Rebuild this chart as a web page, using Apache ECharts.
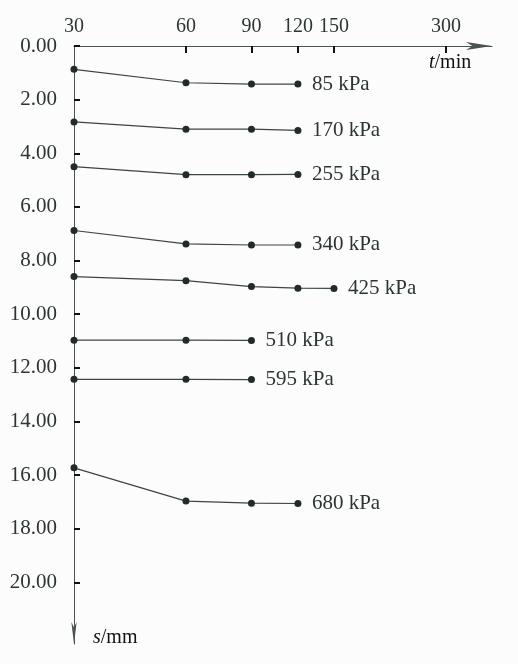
<!DOCTYPE html>
<html>
<head>
<meta charset="utf-8">
<script src="https://cdn.jsdelivr.net/npm/echarts@6/dist/echarts.min.js"></script>
<style>
  html, body { margin: 0; padding: 0; background: #fcfcfc; }
  #chart { width: 518px; height: 664px; }
</style>
</head>
<body>
<div id="chart"></div>
<script>
// Elapsed time of each reading (min), log scale
const times = [30, 60, 90, 120, 150];
const timeLabels = [30, 60, 90, 120, 150, 300];
const timeTicks = [60, 90, 120, 150, 300];
const settleTicks = [0, 2, 4, 6, 8, 10, 12, 14, 16, 18, 20];

// Load stages
const loads = ['85 kPa', '170 kPa', '255 kPa', '340 kPa', '425 kPa', '510 kPa', '595 kPa', '680 kPa'];

// Settlement s (mm) for each load stage, one value per reading time
const s85  = [0.87, 1.37, 1.42, 1.42];
const s170 = [2.83, 3.10, 3.10, 3.15];
const s255 = [4.50, 4.80, 4.80, 4.79];
const s340 = [6.88, 7.38, 7.42, 7.42];
const s425 = [8.60, 8.75, 8.97, 9.03, 9.04];
const s510 = [10.97, 10.97, 10.98];
const s595 = [12.43, 12.43, 12.44];
const s680 = [15.73, 16.97, 17.05, 17.06];

const settlements = [s85, s170, s255, s340, s425, s510, s595, s680];

const FONT = '"Liberation Serif", "Times New Roman", serif';
const INK = '#2c3434';

const series = loads.map((name, k) => ({
  name: name,
  type: 'line',
  data: settlements[k].map((s, i) => [times[i], s]),
  symbol: 'circle',
  symbolSize: 7,
  lineStyle: { color: '#3c4444', width: 1.2 },
  itemStyle: { color: '#222a2a' },
  endLabel: {
    show: true,
    formatter: '{a}',
    distance: 14,
    fontFamily: FONT,
    fontSize: 21,
    color: INK
  },
  emphasis: { disabled: true }
}));

const chart = echarts.init(document.getElementById('chart'));
chart.setOption({
  animation: false,
  backgroundColor: '#fcfcfc',
  grid: { left: 74, top: 46, right: 26, bottom: 20, containLabel: false, outerBoundsMode: 'none' },
  xAxis: {
    type: 'log',
    logBase: 10,
    position: 'top',
    min: 30,
    max: 399,
    axisLine: {
      show: true,
      lineStyle: { color: '#4a5252', width: 1 },
      symbol: ['none', 'arrow'],
      symbolSize: [6, 26]
    },
    axisTick: {
      show: true,
      inside: true,
      length: 7,
      customValues: timeTicks,
      lineStyle: { color: '#111', width: 2 }
    },
    axisLabel: {
      show: true,
      customValues: timeLabels,
      margin: 9,
      fontFamily: FONT,
      fontSize: 20,
      color: INK
    },
    splitLine: { show: false },
    minorTick: { show: false }
  },
  yAxis: {
    type: 'value',
    inverse: true,
    min: 0,
    max: 22.3,
    axisLine: {
      show: true,
      lineStyle: { color: '#4a5252', width: 1 },
      symbol: ['arrow', 'none'],
      symbolSize: [4, 22]
    },
    axisTick: {
      show: true,
      inside: true,
      length: 6,
      customValues: settleTicks,
      lineStyle: { color: '#111', width: 2 }
    },
    axisLabel: {
      show: true,
      customValues: settleTicks,
      formatter: v => v.toFixed(2),
      margin: 17,
      fontFamily: FONT,
      fontSize: 21,
      color: INK
    },
    splitLine: { show: false }
  },
  graphic: [
    {
      type: 'text',
      left: 429,
      top: 53,
      style: {
        text: '{i|t}{r|/min}',
        rich: {
          i: { fontFamily: FONT, fontSize: 20, fontStyle: 'italic', fill: '#111' },
          r: { fontFamily: FONT, fontSize: 20, fill: '#111' }
        }
      }
    },
    {
      type: 'text',
      left: 93,
      top: 628,
      style: {
        text: '{i|s}{r|/mm}',
        rich: {
          i: { fontFamily: FONT, fontSize: 20, fontStyle: 'italic', fill: '#111' },
          r: { fontFamily: FONT, fontSize: 20, fill: '#111' }
        }
      }
    }
  ],
  series: series
});
</script>
</body>
</html>
